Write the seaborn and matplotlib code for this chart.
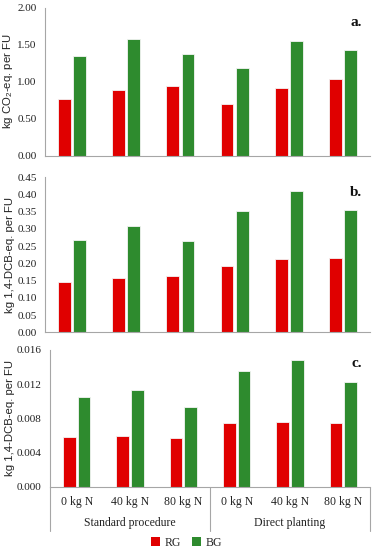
import matplotlib
matplotlib.use("Agg")
import matplotlib.pyplot as plt
import seaborn as sns
import pandas as pd
from matplotlib.patches import Rectangle
from matplotlib.lines import Line2D

categories = ["0 kg N", "40 kg N", "80 kg N", "0 kg N ", "40 kg N ", "80 kg N "]
cat_labels = ["0 kg N", "40 kg N", "80 kg N", "0 kg N", "40 kg N", "80 kg N"]
groups = ["Standard procedure", "Direct planting"]
series = ["RG", "BG"]

a_rg = [0.76, 0.89, 0.94, 0.70, 0.91, 1.03]
a_bg = [1.34, 1.57, 1.37, 1.19, 1.55, 1.43]
b_rg = [0.147, 0.159, 0.162, 0.193, 0.212, 0.215]
b_bg = [0.268, 0.308, 0.265, 0.353, 0.410, 0.356]
c_rg = [0.0058, 0.0059, 0.0057, 0.0074, 0.0076, 0.0074]
c_bg = [0.0105, 0.0113, 0.0093, 0.0135, 0.0148, 0.0122]

a_ticks = [0.00, 0.50, 1.00, 1.50, 2.00]
b_ticks = [0.00, 0.05, 0.10, 0.15, 0.20, 0.25, 0.30, 0.35, 0.40, 0.45]
c_ticks = [0.000, 0.004, 0.008, 0.012, 0.016]

sns.set_theme(style="white")
serif = ["Liberation Serif", "DejaVu Serif"]
plt.rcParams["font.family"] = serif
plt.rcParams["mathtext.fontset"] = "custom"
plt.rcParams["mathtext.rm"] = "Liberation Sans"
plt.rcParams["mathtext.it"] = "Liberation Sans:italic"

palette = {"RG": "#E00000", "BG": "#2E8B2E"}
spine_col = "#A6A6A6"

W, H = 373, 550
fig = plt.figure(figsize=(W / 100, H / 100), dpi=100)

def frac(left, right, top, bottom):
    return [left / W, 1 - bottom / H, (right - left) / W, (bottom - top) / H]

def make_df(rg, bg):
    return pd.DataFrame({
        "cat": categories * 2,
        "type": ["RG"] * 6 + ["BG"] * 6,
        "val": rg + bg,
    })

panels = [
    (frac(45, 370, 7.5, 155.7), a_rg, a_bg, a_ticks, "%.2f", 2.0,
     r"kg CO$_2$-eq. per FU", "a."),
    (frac(45, 370, 177.3, 332.3), b_rg, b_bg, b_ticks, "%.2f", 0.45,
     "kg 1,4-DCB-eq. per FU", "b."),
    (frac(50, 370, 350, 486.7), c_rg, c_bg, c_ticks, "%.3f", 0.016,
     "kg 1,4-DCB-eq. per FU", "c."),
]

axes = []
for i, (rect, rg, bg, ticks, fmt, ymax, ylab, plab) in enumerate(panels):
    ax = fig.add_axes(rect)
    df = make_df(rg, bg)
    sns.barplot(data=df, x="cat", y="val", hue="type", order=categories,
                hue_order=series, palette=palette, width=0.56, gap=0.15,
                saturation=1, edgecolor="#F4F4F4", linewidth=0.6,
                legend=False, ax=ax)
    ax.set_xlim(-0.5, 5.5)
    ax.set_ylim(0, ymax)
    ax.set_yticks(ticks)
    ax.set_yticklabels([fmt % t for t in ticks], fontsize=8, color="#222222")
    ax.tick_params(axis="y", length=0, pad=6)
    ax.set_xlabel("")
    for s in ["top", "right"]:
        ax.spines[s].set_visible(False)
    for s in ["left", "bottom"]:
        ax.spines[s].set_color(spine_col)
        ax.spines[s].set_linewidth(0.8)
    if i < 2:
        ax.set_xticks([k - 0.5 for k in range(7)])
        ax.set_xticklabels([])
        ax.tick_params(axis="x", length=3, width=0.8, color=spine_col, direction="out")
    else:
        ax.set_xticks([])
    ax.set_ylabel(ylab, fontsize=8.2, family=["Liberation Sans", "DejaVu Sans"],
                  color="#222222")
    left_px = rect[0] * W
    ax.yaxis.set_label_coords(-(left_px - 15) / (rect[2] * W), 0.5)
    ax.text(0.975, 0.90, plab, transform=ax.transAxes, ha="right", va="center",
            fontsize=11, fontweight="bold", color="#111111")
    axes.append(ax)

axc = axes[2]
trans = axc.get_xaxis_transform()
# category labels
for k, lab in enumerate(cat_labels):
    axc.text(k, -(502 - 486.7) / 136.7, lab, transform=trans, ha="center",
             va="center", fontsize=8.5, color="#222222")
# group labels
for g, lab in enumerate(groups):
    axc.text(1 + 3 * g, -(523 - 486.7) / 136.7, lab, transform=trans, ha="center",
             va="center", fontsize=8.5, color="#222222")
# group separator lines
for xpos in [-0.5, 2.5, 5.5]:
    axc.add_line(Line2D([xpos, xpos], [0, -(531 - 486.7) / 136.7], transform=trans,
                        color=spine_col, linewidth=0.8, clip_on=False))

# legend
handles = [Rectangle((0, 0), 1, 1, facecolor=palette[s], edgecolor="none") for s in series]
fig.legend(handles, series, loc="center", bbox_to_anchor=(0.5, 1 - 543 / H),
           ncol=2, frameon=False, fontsize=8.5, handlelength=0.8, handleheight=0.8,
           handletextpad=0.4, columnspacing=0.9)

fig.savefig("out.png", dpi=100)
